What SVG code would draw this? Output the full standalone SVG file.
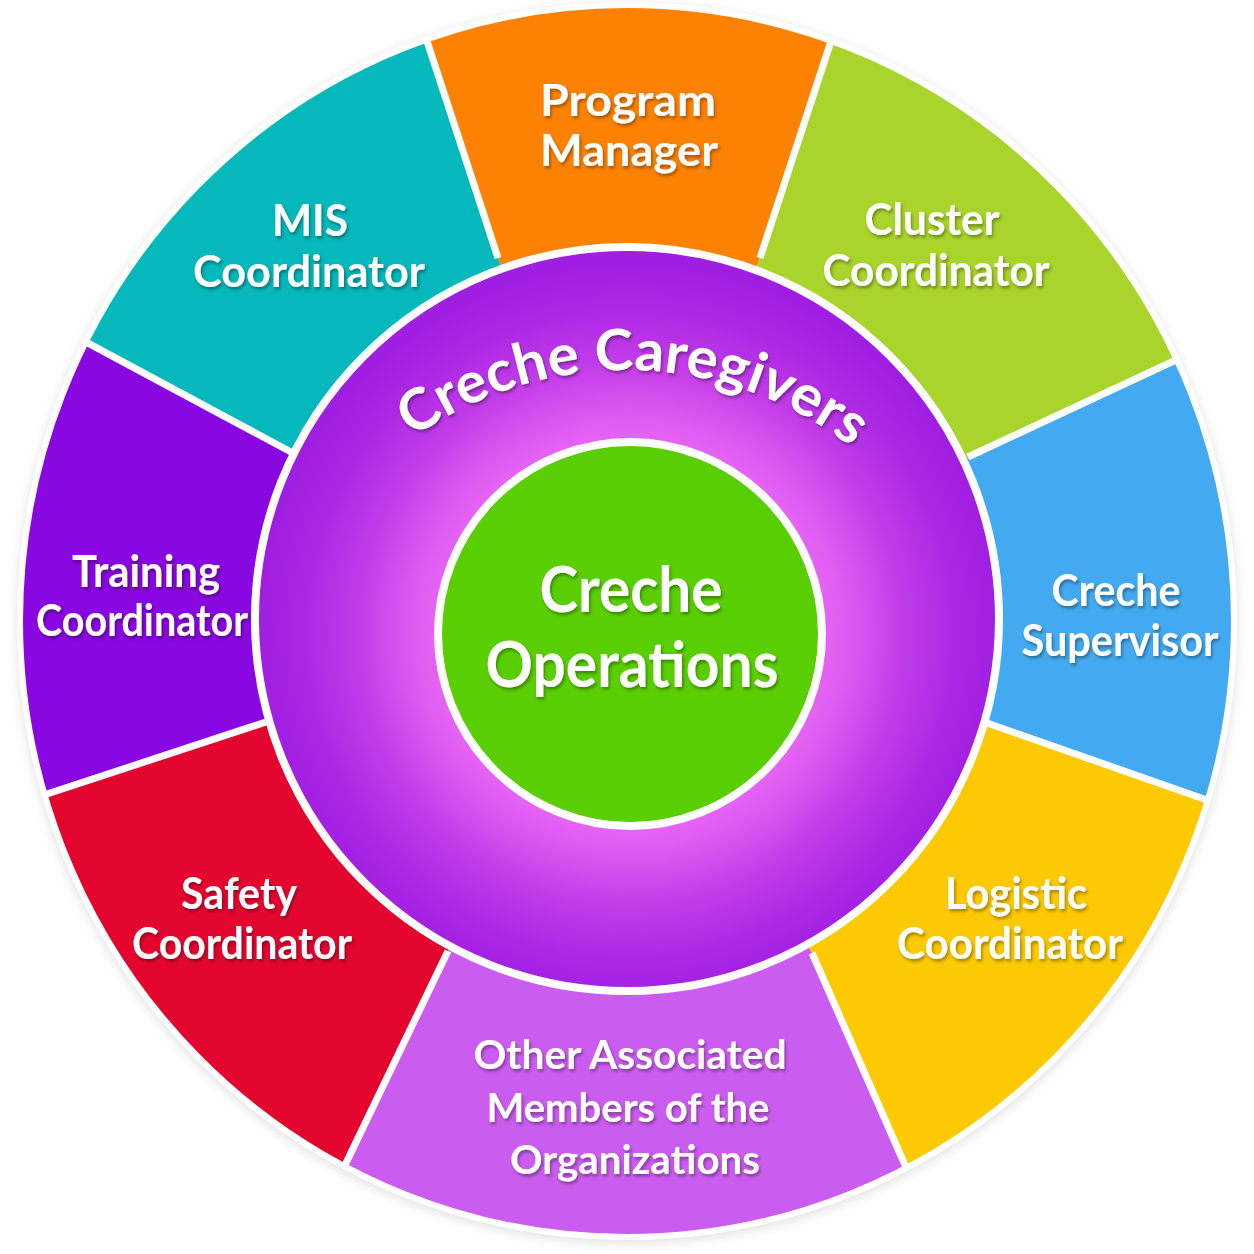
<svg xmlns="http://www.w3.org/2000/svg" width="1254" height="1254" viewBox="0 0 1254 1254">
  <defs>
    <style>
      .lbl { font-family: Lato, "Open Sans", "Liberation Sans", sans-serif; font-weight: 700; font-size: 44px; fill: #ffffff; text-anchor: middle; filter: url(#ts); }
      .lbl-s { font-size: 40px; }
      .lbl-c { font-size: 64px; }
      .lbl-r { font-size: 57px; }
      .div { stroke: #ffffff; stroke-width: 7; stroke-linecap: butt; }
    </style>
    <filter id="ts" x="-20%" y="-40%" width="140%" height="180%">
      <feDropShadow dx="1.5" dy="2.5" stdDeviation="1.8" flood-color="#000000" flood-opacity="0.35"/>
    </filter>
    <filter id="ds" x="-10%" y="-10%" width="120%" height="120%">
      <feGaussianBlur stdDeviation="6"/>
    </filter>
    <clipPath id="disc">
      <ellipse cx="627" cy="621" rx="607" ry="616"/>
    </clipPath>
    <radialGradient id="ringGrad" gradientUnits="userSpaceOnUse" cx="630" cy="634" r="372">
      <stop offset="0.5" stop-color="#e966f5"/>
      <stop offset="0.58" stop-color="#de5cf2"/>
      <stop offset="0.72" stop-color="#c43fe9"/>
      <stop offset="0.87" stop-color="#ad28e4"/>
      <stop offset="1" stop-color="#a01ee1"/>
    </radialGradient>
    <path id="arcPath" d="M 307.3 554 A 368 368 0 0 1 944.7 554"/>
  </defs>

  <rect x="0" y="0" width="1254" height="1254" fill="#ffffff"/>

  <!-- soft shadow of disc -->
  <ellipse cx="627" cy="624" rx="610" ry="619" fill="#000000" opacity="0.12" filter="url(#ds)"/>
  <ellipse cx="627" cy="621" rx="610" ry="619" fill="#ffffff"/>

  <g clip-path="url(#disc)">
    <g id="node-program-manager">
      <polygon points="627,621 498,258 315.5,-299.5 942.5,-299.5 760,258" fill="#fd8204"/>
    </g>
    <g id="node-cluster-coordinator">
      <polygon points="627,621 760,258 942.5,-299.5 1493,212 968,457" fill="#a9d42b"/>
    </g>
    <g id="node-creche-supervisor">
      <polygon points="627,621 968,457 1493,212 1537,915.5 987,723" fill="#43aaf1"/>
    </g>
    <g id="node-logistic-coordinator">
      <polygon points="627,621 987,723 1537,915.5 1044.5,1483 812,953" fill="#fdc902"/>
    </g>
    <g id="node-other-members">
      <polygon points="627,621 812,953 1044.5,1483 193,1481 448,951" fill="#cb5cf0"/>
    </g>
    <g id="node-safety-coordinator">
      <polygon points="627,621 448,951 193,1481 -289,904.5 266,722" fill="#e4052f"/>
    </g>
    <g id="node-training-coordinator">
      <polygon points="627,621 266,722 -289,904.5 -221.5,177 291,452" fill="#8907e1"/>
    </g>
    <g id="node-mis-coordinator">
      <polygon points="627,621 291,452 -221.5,177 315.5,-299.5 498,258" fill="#05b8bb"/>
    </g>

    <g id="connectors">
      <line class="div" x1="498" y1="258" x2="315.5" y2="-299.5"/>
      <line class="div" x1="760" y1="258" x2="942.5" y2="-299.5"/>
      <line class="div" x1="968" y1="457" x2="1493" y2="212"/>
      <line class="div" x1="987" y1="723" x2="1537" y2="915.5"/>
      <line class="div" x1="812" y1="953" x2="1044.5" y2="1483"/>
      <line class="div" x1="448" y1="951" x2="193" y2="1481"/>
      <line class="div" x1="266" y1="722" x2="-289" y2="904.5"/>
      <line class="div" x1="291" y1="452" x2="-221.5" y2="177"/>
    </g>
  </g>

  <ellipse cx="627" cy="621" rx="607" ry="616" fill="none" stroke="#ffffff" stroke-width="6"/>

  <!-- Creche Caregivers ring -->
  <g id="node-creche-caregivers">
    <circle cx="627" cy="619" r="372" fill="url(#ringGrad)" stroke="#ffffff" stroke-width="8"/>
    <text class="lbl lbl-r">
      <textPath href="#arcPath" startOffset="51%" text-anchor="middle" textLength="470" lengthAdjust="spacingAndGlyphs">Creche Caregivers</textPath>
    </text>
  </g>

  <!-- Center -->
  <g id="node-creche-operations">
    <circle cx="630" cy="634" r="192" fill="#59cf03" stroke="#ffffff" stroke-width="8"/>
    <text class="lbl lbl-c" x="631" y="612" textLength="183" lengthAdjust="spacingAndGlyphs">Creche</text>
    <text class="lbl lbl-c" x="632" y="687" textLength="293" lengthAdjust="spacingAndGlyphs">Operations</text>
  </g>

  <!-- Outer labels -->
  <g id="labels">
    <text class="lbl" x="628" y="116" textLength="176" lengthAdjust="spacingAndGlyphs">Program</text>
    <text class="lbl" x="629" y="166" textLength="178" lengthAdjust="spacingAndGlyphs">Manager</text>

    <text class="lbl" x="310" y="236" textLength="76" lengthAdjust="spacingAndGlyphs">MIS</text>
    <text class="lbl" x="309" y="287" textLength="232" lengthAdjust="spacingAndGlyphs">Coordinator</text>

    <text class="lbl" x="932" y="235" textLength="135" lengthAdjust="spacingAndGlyphs">Cluster</text>
    <text class="lbl" x="936" y="286" textLength="227" lengthAdjust="spacingAndGlyphs">Coordinator</text>

    <text class="lbl" x="1116" y="606" textLength="129" lengthAdjust="spacingAndGlyphs">Creche</text>
    <text class="lbl" x="1120" y="656" textLength="197" lengthAdjust="spacingAndGlyphs">Supervisor</text>

    <text class="lbl" x="146" y="587" textLength="148" lengthAdjust="spacingAndGlyphs">Training</text>
    <text class="lbl" x="142" y="636" textLength="212" lengthAdjust="spacingAndGlyphs">Coordinator</text>

    <text class="lbl" x="239" y="909" textLength="116" lengthAdjust="spacingAndGlyphs">Safety</text>
    <text class="lbl" x="242" y="959" textLength="220" lengthAdjust="spacingAndGlyphs">Coordinator</text>

    <text class="lbl" x="1016" y="909" textLength="142" lengthAdjust="spacingAndGlyphs">Logistic</text>
    <text class="lbl" x="1010" y="959" textLength="226" lengthAdjust="spacingAndGlyphs">Coordinator</text>

    <text class="lbl lbl-s" x="630" y="1069" textLength="313" lengthAdjust="spacingAndGlyphs">Other Associated</text>
    <text class="lbl lbl-s" x="628" y="1122" textLength="283" lengthAdjust="spacingAndGlyphs">Members of the</text>
    <text class="lbl lbl-s" x="635" y="1174" textLength="250" lengthAdjust="spacingAndGlyphs">Organizations</text>
  </g>
</svg>
